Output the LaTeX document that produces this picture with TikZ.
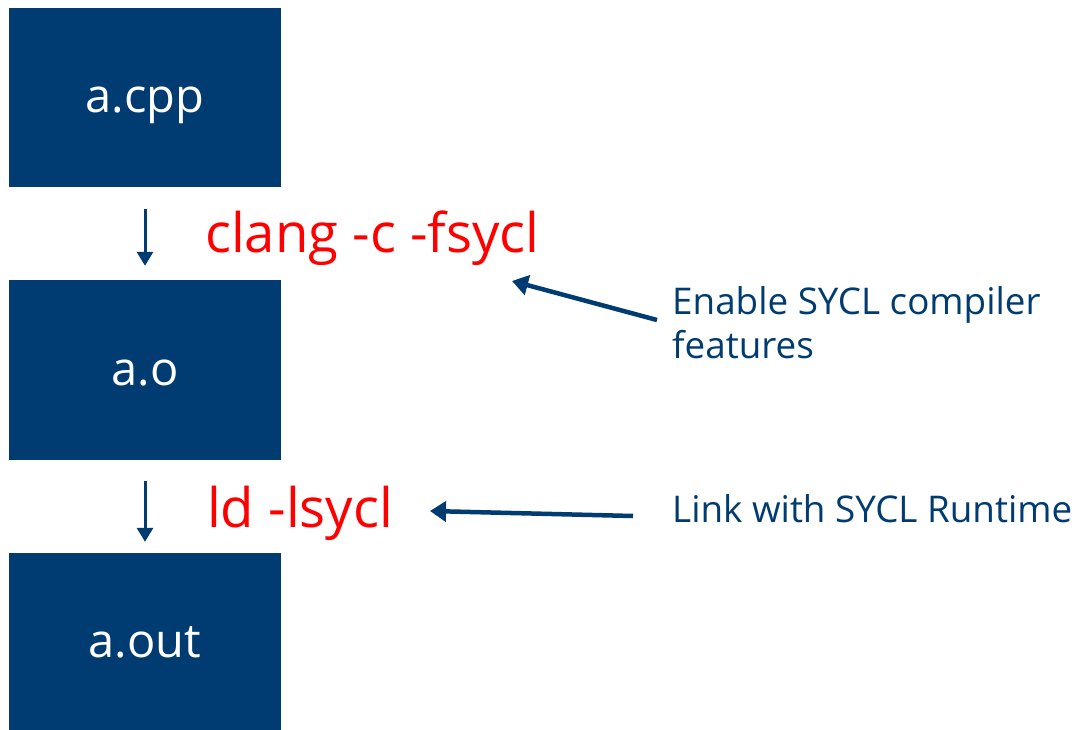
\documentclass[tikz,border=0pt]{standalone}
\usepackage{fontspec}
\setmainfont{Open Sans}
\usetikzlibrary{arrows.meta}
\definecolor{ibm}{HTML}{003C71}
\definecolor{cmdred}{HTML}{FF0000}
\tikzset{
  filebox/.style={fill=ibm, draw=none, text=white, font=\fontsize{47}{50}\selectfont,
    minimum width=272pt, inner sep=0pt, text height=31pt, text depth=0pt},
  cmd/.style={text=cmdred, font=\fontsize{54.5}{56}\selectfont, anchor=base west, inner sep=0pt},
  note/.style={text=ibm, font=\fontsize{36.8}{44}\selectfont, anchor=base west, inner sep=0pt, align=left},
  flow/.style={draw=ibm, line width=3pt, -{Triangle[length=14pt,width=16pt]}},
  pointer/.style={draw=ibm, line width=4.5pt, -{Triangle[length=16pt,width=20pt]}}
}
\begin{document}
\begin{tikzpicture}[x=1pt,y=-1pt]
  \fill[white] (0,0) rectangle (1078,730);
  \useasboundingbox (0,0) rectangle (1078,730);

  % source, object and executable files
  \node[filebox, minimum height=179pt] (cpp) at (145,97.5) {a.cpp};
  \node[filebox, minimum height=180pt] (obj) at (145,370) {a.o};
  \node[filebox, minimum height=177pt] (exe) at (145,641.5) {a.out};

  % build steps
  \draw[flow, shorten <=22pt, shorten >=14pt] (cpp.south) -- (obj.north);
  \draw[flow, shorten <=21pt, shorten >=11pt] (obj.south) -- (exe.north);

  \node[cmd] (compile) at (205,252) {clang -c -fsycl};
  \node[cmd] (link) at (207,527) {ld -lsycl};

  % explanations
  \node[note] (enable) at (672,358) {Enable SYCL compiler\\features};
  \node[note] (runtime) at (672,522) {Link with SYCL Runtime};

  \coordinate (enabletail) at (657,320);
  \coordinate (enabletip) at (512,281);
  \coordinate (runtimetail) at (633,516);
  \coordinate (runtimetip) at (430,511);
  \draw[pointer] (enabletail) -- (enabletip);
  \draw[pointer] (runtimetail) -- (runtimetip);
\end{tikzpicture}
\end{document}
